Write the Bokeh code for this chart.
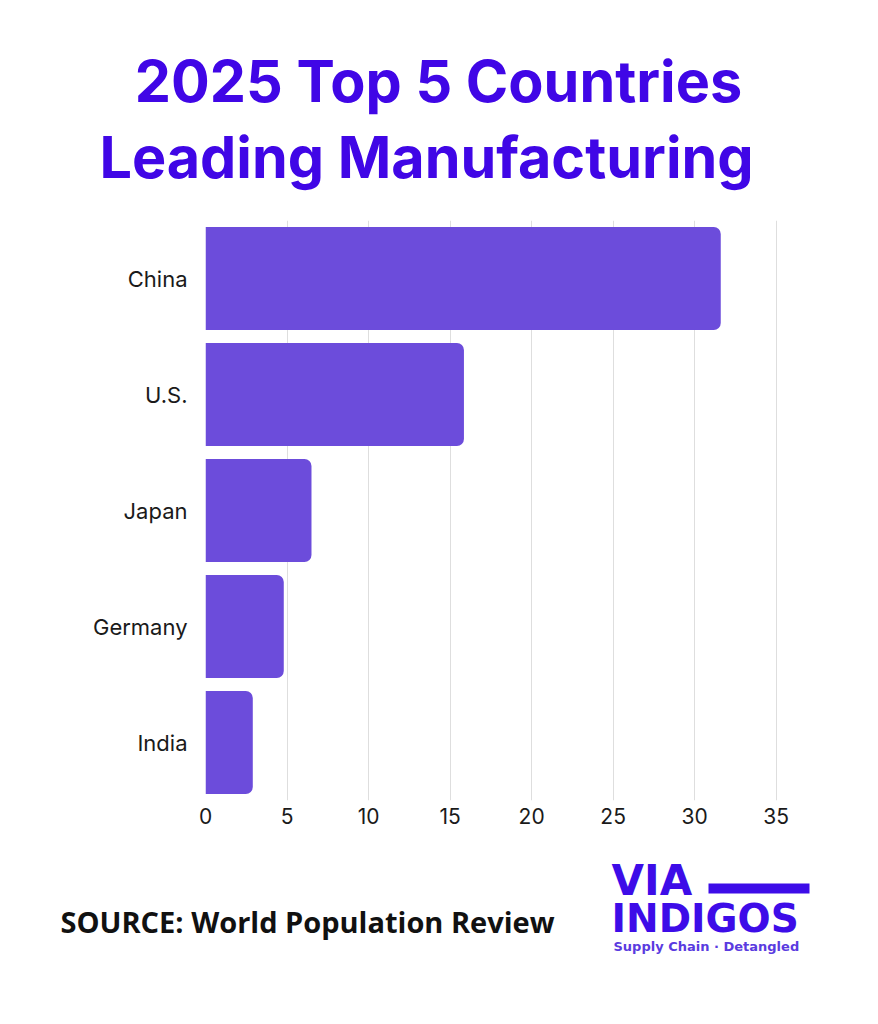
from bokeh.plotting import figure
from bokeh.layouts import column
from bokeh.models import Range1d, FactorRange, ColumnDataSource, FixedTicker, BoxAnnotation
from bokeh.core.properties import value
from bokeh.embed import file_html
from bokeh.resources import INLINE

countries = ["China", "U.S.", "Japan", "Germany", "India"]
shares = [31.6, 15.85, 6.5, 4.8, 2.9]
x_ticks = [0, 5, 10, 15, 20, 25, 30, 35]

TITLE_LINES = ["2025 Top 5 Countries", "Leading Manufacturing"]
SOURCE = "SOURCE: World Population Review"

W, H = 878, 1024
TOP_H = 220      # title band height
CHART_H = 630    # chart band (frame 220..800 + tick labels)
FOOT_H = H - TOP_H - CHART_H


def blank(height, y0, y1):
    f = figure(width=W, height=height, output_backend="svg", toolbar_location=None,
               x_range=Range1d(0, W), y_range=Range1d(y1, y0), title=None,
               min_border=0, min_border_left=0, min_border_right=0,
               min_border_top=0, min_border_bottom=0, frame_align=False)
    f.axis.visible = False
    f.grid.visible = False
    f.outline_line_color = None
    f.background_fill_color = "white"
    f.border_fill_color = "white"
    return f


def base(y, size):
    # compensate the renderer's baseline placement
    return y - 0.4 * size


# ---- title band ----
title_color = "#4006E6"
top = blank(TOP_H, 0, TOP_H)
top.text(x=[438, 426], y=[base(103, 57.5), base(179, 57.5)], text=TITLE_LINES,
         text_align="center", text_baseline="alphabetic",
         text_font=value("Inter"), text_font_style="bold",
         text_font_size="57.5px", text_color=title_color)

# ---- chart band ----
FL = 205
p = figure(width=W, height=CHART_H, output_backend="svg", toolbar_location=None,
           x_range=Range1d(0, 36), y_range=FactorRange(*reversed(countries)),
           min_border_left=FL, min_border_right=86, min_border_top=0,
           min_border_bottom=50, frame_align=False, title=None)
p.outline_line_color = None
p.background_fill_color = "white"
p.border_fill_color = "white"

src = ColumnDataSource(dict(y=countries, x=shares))
p.hbar(y="y", right="x", left=0, height=0.89, source=src,
       fill_color="#6C4CDB", line_color=None, border_radius=(0, 7, 7, 0))

p.xgrid.grid_line_color = "#dedede"
p.ygrid.grid_line_color = None
p.xaxis.ticker = FixedTicker(ticks=x_ticks)
for ax in (p.xaxis, p.yaxis):
    ax.axis_line_color = None
    ax.major_tick_line_color = None
    ax.minor_tick_line_color = None
    ax.major_label_text_font = "Inter"
    ax.major_label_text_font_size = "21px"
    ax.major_label_text_color = "#1a1a1a"
p.yaxis.major_label_text_font_size = "22px"
p.xaxis.major_label_standoff = 1
p.yaxis.major_label_standoff = 12
p.y_range.range_padding = 0

# ---- footer band ----
Y0 = TOP_H + CHART_H
foot = blank(FOOT_H, Y0, H)
logo_color = "#3D0CE8"
foot.text(x=[60], y=[base(933, 29)], text=[SOURCE], text_align="left",
          text_baseline="alphabetic", text_font=value("Open Sans"),
          text_font_style="bold", text_font_size="29px", text_color="#111111")
foot.text(x=[611], y=[base(897, 42)], text=["VIA"], text_align="left",
          text_baseline="alphabetic", text_font=value("DejaVu Sans"),
          text_font_style="bold", text_font_size="42px", text_color=logo_color)
foot.text(x=[611], y=[base(934, 39)], text=["INDIGOS"], text_align="left",
          text_baseline="alphabetic", text_font=value("DejaVu Sans"),
          text_font_style="bold", text_font_size="39px", text_color=logo_color)
foot.text(x=[613], y=[base(951, 13)], text=["Supply Chain · Detangled"], text_align="left",
          text_baseline="alphabetic", text_font=value("DejaVu Sans"),
          text_font_style="bold", text_font_size="13px", text_color="#5A3BE0")
foot.add_layout(BoxAnnotation(left=708, right=809, top=883, bottom=893,
                              fill_color=logo_color, fill_alpha=1, line_color=None))

layout = column(top, p, foot, spacing=0)
open("out.html", "w").write(file_html(layout, INLINE))
